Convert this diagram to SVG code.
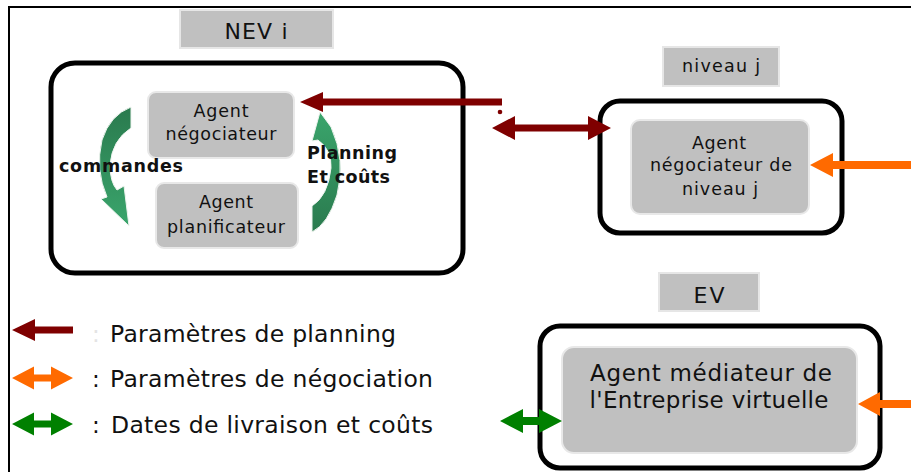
<svg xmlns="http://www.w3.org/2000/svg" width="911" height="472" viewBox="0 0 911 472">
<style>
text{font-family:"DejaVu Sans","Liberation Sans",sans-serif;fill:#111}
.lbl{fill:#c0c0c0;stroke:#e6e6e6;stroke-width:2}
.agent{fill:#c0c0c0;stroke:#e8e8e8;stroke-width:2}
.cont{fill:#fff;stroke:#000;stroke-width:5}
.red{fill:#7f0000}
.orange{fill:#ff6a00}
.green{fill:#008000}
.bold{font-weight:bold}
</style>
<defs>
<linearGradient id="gL" x1="0" y1="0" x2="0" y2="1">
<stop offset="0" stop-color="#2a7a4e"/><stop offset="1" stop-color="#3aa56c"/>
</linearGradient>
<linearGradient id="gR" x1="0" y1="1" x2="0" y2="0">
<stop offset="0" stop-color="#2a7a4e"/><stop offset="1" stop-color="#3aa56c"/>
</linearGradient>
</defs>
<rect width="911" height="472" fill="#fff"/>
<path d="M9 472 V7 H911" fill="none" stroke="#000" stroke-width="2"/>

<g id="nev">
<rect class="lbl" x="180" y="10" width="153" height="38"/>
<text x="256" y="39" font-size="22" text-anchor="middle" textLength="63">NEV i</text>
<rect class="cont" x="51" y="63" width="412" height="210" rx="24"/>
</g>

<g id="agent-negociateur">
<rect class="agent" x="148" y="92" width="146" height="66" rx="8"/>
<text x="221" y="117" font-size="17.5" text-anchor="middle" textLength="55">Agent</text>
<text x="221" y="140" font-size="17.5" text-anchor="middle" textLength="111">négociateur</text>
</g>

<g id="agent-planificateur">
<rect class="agent" x="156" y="183" width="142" height="65" rx="8"/>
<text x="226" y="208" font-size="17.5" text-anchor="middle" textLength="54">Agent</text>
<text x="226" y="233" font-size="17.5" text-anchor="middle" textLength="118">planificateur</text>
</g>

<g id="green-loop">
<path d="M131 107 L131 128 Q112 140 110 165 Q110 182 117 190 L124 186 L129 226 L101 199 L107 197 Q95 170 102 140 Q110 115 131 107 Z" fill="url(#gL)" stroke="#eef4ef" stroke-width="1"/>
<path d="M312 232 L312 206 Q328 196 331 168 Q332 150 318 140 L312 141 L320 112 L331 127 Q346 160 337 195 Q328 224 312 232 Z" fill="url(#gR)" stroke="#eef4ef" stroke-width="1"/>
<text class="bold" x="59" y="172" font-size="17.5" textLength="124">commandes</text>
<text class="bold" x="307" y="159" font-size="17.5" textLength="90">Planning</text>
<text class="bold" x="307" y="183" font-size="17.5" textLength="83">Et coûts</text>
</g>

<g id="niveau-j">
<rect class="lbl" x="663" y="47" width="116" height="39"/>
<text x="721" y="72" font-size="17.5" text-anchor="middle" textLength="78">niveau j</text>
<rect class="cont" x="600" y="101" width="242" height="132" rx="20"/>
<rect class="agent" x="631" y="120" width="178" height="94" rx="9"/>
<text x="719" y="149" font-size="17.5" text-anchor="middle" textLength="54">Agent</text>
<text x="721" y="171" font-size="17.5" text-anchor="middle" textLength="142">négociateur de</text>
<text x="720" y="195" font-size="17.5" text-anchor="middle" textLength="76">niveau j</text>
</g>

<g id="ev">
<rect class="lbl" x="659" y="273" width="100" height="38"/>
<text x="709" y="303" font-size="22" text-anchor="middle" textLength="31">EV</text>
<rect class="cont" x="540" y="326" width="340" height="142" rx="20"/>
<rect class="agent" x="562" y="347" width="295" height="106" rx="12"/>
<text x="711" y="381" font-size="23" text-anchor="middle" textLength="242">Agent médiateur de</text>
<text x="709" y="408" font-size="23" text-anchor="middle" textLength="239">l'Entreprise virtuelle</text>
</g>

<g id="connectors">
<path class="red" d="M300 102 L323 92 L323 98.5 L502 98.5 L502 105.5 L323 105.5 L323 112 Z"/>
<circle class="red" cx="500" cy="112" r="2.3"/>
<path class="red" d="M492 128 L515 116 L515 124.5 L588 124.5 L588 116 L611 128 L588 140 L588 131.5 L515 131.5 L515 140 Z"/>
<path class="orange" d="M810 165 L833 153 L833 161 L911 161 L911 169 L833 169 L833 177 Z"/>
<path class="orange" d="M858 404 L880 392 L880 400 L911 400 L911 408 L880 408 L880 416 Z"/>
<path class="green" d="M500 421 L523 409 L523 417 L539 417 L539 409 L562 421 L539 433 L539 425 L523 425 L523 433 Z"/>
</g>

<g id="legend">
<path class="red" d="M12 330 L35 319 L35 326.5 L73 326.5 L73 333.5 L35 333.5 L35 341 Z"/>
<path class="orange" d="M12 378 L34 366.5 L34 374.5 L51 374.5 L51 366.5 L73 378 L51 389.5 L51 381.5 L34 381.5 L34 389.5 Z"/>
<path class="green" d="M12 424 L34 412.5 L34 420.5 L51 420.5 L51 412.5 L73 424 L51 435.5 L51 427.5 L34 427.5 L34 435.5 Z"/>
<text x="92" y="342" font-size="23" style="fill:#e4e4e4">:</text>
<text x="110" y="342" font-size="23.5" textLength="286">Paramètres de planning</text>
<text x="92" y="387" font-size="23">:</text>
<text x="110" y="387" font-size="23.5" textLength="323">Paramètres de négociation</text>
<text x="92" y="433" font-size="23">:</text>
<text x="111" y="433" font-size="23.5" textLength="322">Dates de livraison et coûts</text>
</g>
</svg>
